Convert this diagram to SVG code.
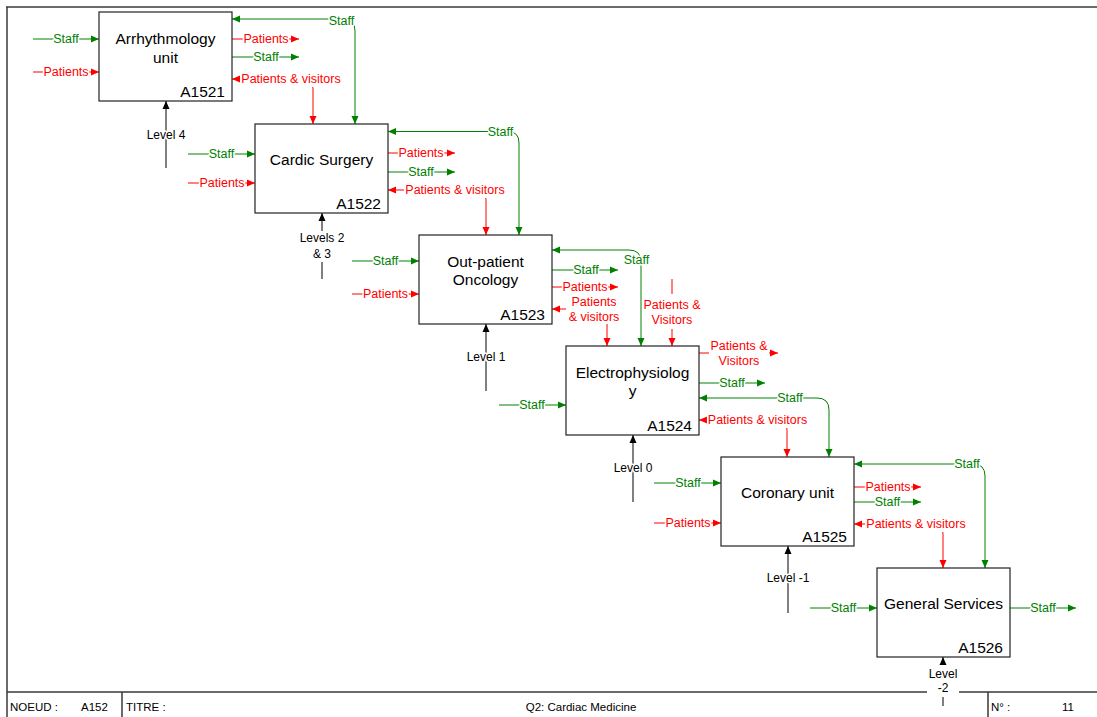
<svg xmlns="http://www.w3.org/2000/svg" width="1097" height="717" viewBox="0 0 1097 717">
<style>
.frame{stroke:#3a3a3a;stroke-width:1.5;fill:none}
.box{fill:#fff;stroke:#222;stroke-width:1.2}
.t{font-family:"Liberation Sans",Arial,sans-serif;font-size:15.5px;fill:#000;text-anchor:middle;dominant-baseline:central}
.id{font-family:"Liberation Sans",Arial,sans-serif;font-size:15.5px;fill:#000;text-anchor:end;dominant-baseline:central}
.g{stroke:#008000;stroke-width:1;fill:none}
.r{stroke:#ff0000;stroke-width:1;fill:none}
.k{stroke:#000;stroke-width:1;fill:none}
.lg,.lr,.lk{font-family:"Liberation Sans",Arial,sans-serif;font-size:12.5px;text-anchor:middle;dominant-baseline:central;stroke:#fff;stroke-width:3;stroke-linejoin:round;paint-order:stroke}
.lk{font-size:12px}
.lg{fill:#008000}
.lr{fill:#ff0000}
.lk{fill:#000}
.bg{fill:#fff;stroke:none}
.ft{font-family:"Liberation Sans",Arial,sans-serif;font-size:11.5px;fill:#000}
</style>
<defs>
<marker id="ag" viewBox="0 0 8 8" refX="8" refY="4" markerWidth="8" markerHeight="8" markerUnits="userSpaceOnUse" orient="auto-start-reverse"><path d="M0,0.5 L8,4 L0,7.5 z" fill="#008000"/></marker>
<marker id="ar" viewBox="0 0 8 8" refX="8" refY="4" markerWidth="8" markerHeight="8" markerUnits="userSpaceOnUse" orient="auto-start-reverse"><path d="M0,0.5 L8,4 L0,7.5 z" fill="#ff0000"/></marker>
<marker id="ak" viewBox="0 0 8 8" refX="8" refY="4" markerWidth="8" markerHeight="8" markerUnits="userSpaceOnUse" orient="auto-start-reverse"><path d="M0,0.5 L8,4 L0,7.5 z" fill="#000"/></marker>
</defs>
<rect x="0" y="0" width="1097" height="717" fill="#fff"/>
<g id="frame">
<path class="frame" d="M6 7 H1097 M7 7 V717 M7 692 H1097 M122 692 V717 M988 692 V717"/>
<text class="ft" x="10" y="711">NOEUD :</text>
<text class="ft" x="81" y="711">A152</text>
<text class="ft" x="126" y="711">TITRE :</text>
<text class="ft" x="581" y="711" text-anchor="middle">Q2: Cardiac Medicine</text>
<text class="ft" x="991" y="711">N° :</text>
<text class="ft" x="1062" y="711">11</text>
</g>
<g id="connectors">
<!-- A1521 -->
<path class="g" d="M33 39 H99" marker-end="url(#ag)"/><text class="lg" x="66" y="39">Staff</text>
<path class="r" d="M33 72 H99" marker-end="url(#ar)"/><text class="lr" x="66" y="72">Patients</text>
<path class="r" d="M232 39 H299" marker-end="url(#ar)"/><text class="lr" x="266" y="39">Patients</text>
<path class="g" d="M232 57 H299" marker-end="url(#ag)"/><text class="lg" x="266" y="57">Staff</text>
<path class="r" d="M313 124 V89 Q313 79 303 79 H232" marker-start="url(#ar)" marker-end="url(#ar)"/><rect class="bg" x="240" y="72" width="102" height="15"/><text class="lr" x="291" y="79">Patients &amp; visitors</text>
<path class="g" d="M355 124 V31 Q355 19 343 19 H232" marker-start="url(#ag)" marker-end="url(#ag)"/><text class="lg" x="341.5" y="20.5">Staff</text>
<path class="k" d="M166 168 V101" marker-end="url(#ak)"/><text class="lk" x="166" y="135">Level 4</text>
<!-- A1522 -->
<path class="g" d="M188 154 H255" marker-end="url(#ag)"/><text class="lg" x="221.5" y="154">Staff</text>
<path class="r" d="M188 183 H255" marker-end="url(#ar)"/><text class="lr" x="222" y="183">Patients</text>
<path class="r" d="M388 153 H455" marker-end="url(#ar)"/><text class="lr" x="421" y="153">Patients</text>
<path class="g" d="M388 172 H455" marker-end="url(#ag)"/><text class="lg" x="421" y="172">Staff</text>
<path class="r" d="M486 235 V200 Q486 190 476 190 H388" marker-start="url(#ar)" marker-end="url(#ar)"/><rect class="bg" x="404" y="183" width="102" height="15"/><text class="lr" x="455" y="190">Patients &amp; visitors</text>
<path class="g" d="M519 235 V143 Q519 131.5 508 131.5 H388" marker-start="url(#ag)" marker-end="url(#ag)"/><text class="lg" x="500.5" y="131.5">Staff</text>
<path class="k" d="M322 279 V213" marker-end="url(#ak)"/><rect class="bg" x="298" y="231" width="48" height="31"/><text class="lk" x="322" y="238">Levels 2</text><text class="lk" x="322" y="254">&amp; 3</text>
<!-- A1523 -->
<path class="g" d="M352 261 H419" marker-end="url(#ag)"/><text class="lg" x="385.5" y="261">Staff</text>
<path class="r" d="M352 294 H419" marker-end="url(#ar)"/><text class="lr" x="385.5" y="294">Patients</text>
<path class="g" d="M552 270 H618" marker-end="url(#ag)"/><text class="lg" x="586" y="270">Staff</text>
<path class="r" d="M552 287 H618" marker-end="url(#ar)"/><text class="lr" x="585" y="287">Patients</text>
<path class="r" d="M607 346 V319 Q607 309 597 309 H552" marker-start="url(#ar)" marker-end="url(#ar)"/><rect class="bg" x="566" y="295" width="56" height="29"/><text class="lr" x="594" y="301.5">Patients</text><text class="lr" x="594" y="316.5">&amp; visitors</text>
<path class="g" d="M641 346 V262 Q641 250 629 250 H552" marker-start="url(#ag)" marker-end="url(#ag)"/><text class="lg" x="636.5" y="260">Staff</text>
<path class="r" d="M672 279 V346" marker-end="url(#ar)"/><rect class="bg" x="643" y="294" width="58" height="35"/><text class="lr" x="672" y="305">Patients &amp;</text><text class="lr" x="672" y="320">Visitors</text>
<path class="k" d="M486 391 V324" marker-end="url(#ak)"/><text class="lk" x="486" y="357">Level 1</text>
<!-- A1524 -->
<path class="r" d="M699 353 H778" marker-end="url(#ar)"/><rect class="bg" x="709" y="339" width="60" height="28"/><text class="lr" x="739" y="346">Patients &amp;</text><text class="lr" x="739" y="361">Visitors</text>
<path class="g" d="M699 383 H765" marker-end="url(#ag)"/><text class="lg" x="732" y="383">Staff</text>
<path class="g" d="M499 405 H566" marker-end="url(#ag)"/><text class="lg" x="532" y="405">Staff</text>
<path class="g" d="M829 457 V410 Q829 398 817 398 H699" marker-start="url(#ag)" marker-end="url(#ag)"/><text class="lg" x="790" y="398">Staff</text>
<path class="r" d="M787 457 V430 Q787 420 777 420 H699" marker-start="url(#ar)" marker-end="url(#ar)"/><rect class="bg" x="707" y="413" width="102" height="15"/><text class="lr" x="757.5" y="420">Patients &amp; visitors</text>
<path class="k" d="M633 502 V435" marker-end="url(#ak)"/><text class="lk" x="633" y="468">Level 0</text>
<!-- A1525 -->
<path class="g" d="M654 483 H721" marker-end="url(#ag)"/><text class="lg" x="688" y="483">Staff</text>
<path class="r" d="M654 523 H721" marker-end="url(#ar)"/><text class="lr" x="688" y="523">Patients</text>
<path class="r" d="M854 487 H921" marker-end="url(#ar)"/><text class="lr" x="888" y="487">Patients</text>
<path class="g" d="M854 502 H921" marker-end="url(#ag)"/><text class="lg" x="887.5" y="502">Staff</text>
<path class="r" d="M943 568 V534 Q943 524 933 524 H854" marker-start="url(#ar)" marker-end="url(#ar)"/><rect class="bg" x="865" y="517" width="102" height="15"/><text class="lr" x="916" y="524">Patients &amp; visitors</text>
<path class="g" d="M985 568 V476 Q985 464 973 464 H854" marker-start="url(#ag)" marker-end="url(#ag)"/><text class="lg" x="967" y="464">Staff</text>
<path class="k" d="M788 613 V546" marker-end="url(#ak)"/><text class="lk" x="788" y="578">Level -1</text>
<!-- A1526 -->
<path class="g" d="M810 608 H877" marker-end="url(#ag)"/><text class="lg" x="843.5" y="608">Staff</text>
<path class="g" d="M1010 608 H1076" marker-end="url(#ag)"/><text class="lg" x="1043" y="608">Staff</text>
<path class="k" d="M943 706 V657" marker-end="url(#ak)"/><rect class="bg" x="927" y="665" width="32" height="32"/><text class="lk" x="943" y="674">Level</text><text class="lk" x="943" y="688">-2</text>
</g>
<g id="A1521"><rect class="box" x="99" y="12" width="133" height="89"/><text class="t" x="165.5" y="38.5">Arrhythmology</text><text class="t" x="165.5" y="57">unit</text><text class="id" x="225" y="91">A1521</text></g>
<g id="A1522"><rect class="box" x="255" y="124" width="133" height="89"/><text class="t" x="321.5" y="159">Cardic Surgery</text><text class="id" x="381" y="203">A1522</text></g>
<g id="A1523"><rect class="box" x="419" y="235" width="133" height="89"/><text class="t" x="485.5" y="261">Out-patient</text><text class="t" x="485.5" y="279.5">Oncology</text><text class="id" x="545" y="314">A1523</text></g>
<g id="A1524"><rect class="box" x="566" y="346" width="133" height="89"/><text class="t" x="632.5" y="372">Electrophysiolog</text><text class="t" x="632.5" y="390.5">y</text><text class="id" x="692" y="425">A1524</text></g>
<g id="A1525"><rect class="box" x="721" y="457" width="133" height="89"/><text class="t" x="787.5" y="492">Coronary unit</text><text class="id" x="847" y="536">A1525</text></g>
<g id="A1526"><rect class="box" x="877" y="568" width="133" height="89"/><text class="t" x="943.5" y="603">General Services</text><text class="id" x="1003" y="647">A1526</text></g>
</svg>
